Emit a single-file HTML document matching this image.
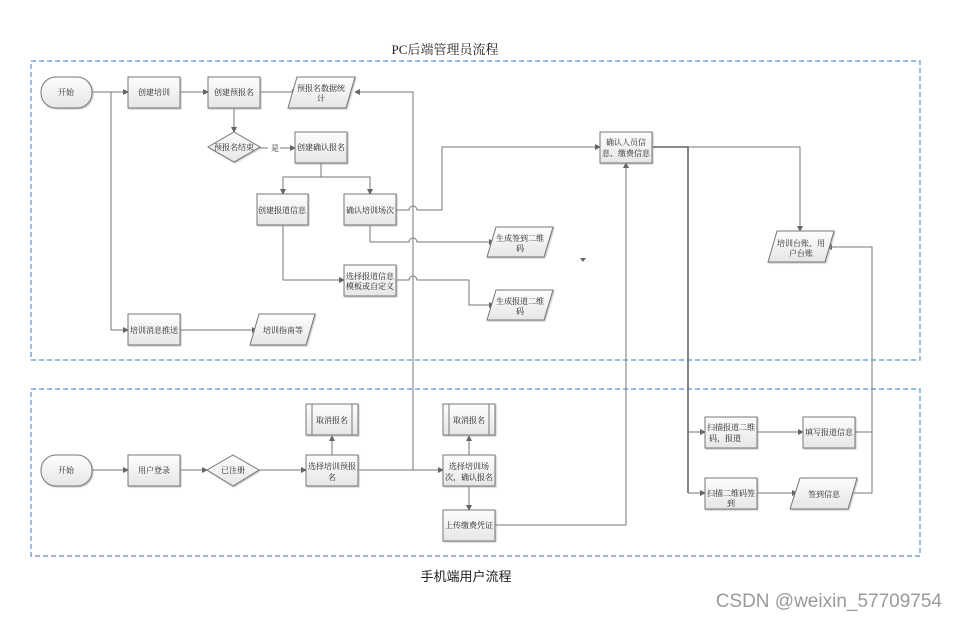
<!DOCTYPE html>
<html><head><meta charset="utf-8"><style>
html,body{margin:0;padding:0;background:#fff;width:958px;height:619px;overflow:hidden}
svg{display:block}
text{font-family:"Liberation Serif","Noto Serif CJK SC","Noto Sans CJK SC",serif;font-size:8px;fill:#222}
.n{fill:url(#g);stroke:#777;stroke-width:1;filter:url(#s)}
.l{fill:none;stroke:#777;stroke-width:1}
.t{fill:none;stroke:#666;stroke-width:1.6}
</style></head><body>
<svg width="958" height="619" viewBox="0 0 958 619" xmlns="http://www.w3.org/2000/svg">
<defs>
<linearGradient id="g" x1="0" y1="0" x2="0" y2="1"><stop offset="0" stop-color="#fdfdfd"/><stop offset="1" stop-color="#e6e6e6"/></linearGradient>
<filter id="s" x="-10%" y="-10%" width="130%" height="130%"><feDropShadow dx="1" dy="1" stdDeviation="0.6" flood-color="#999" flood-opacity="0.6"/></filter>
<marker id="a" markerWidth="6" markerHeight="6" refX="5" refY="3" orient="auto" markerUnits="userSpaceOnUse"><path d="M0,0 L6,3 L0,6 z" fill="#666"/></marker>
</defs>
<text x="445" y="54" text-anchor="middle" style="font-size:13px">PC后端管理员流程</text>
<text x="466" y="581" text-anchor="middle" style="font-family:'Liberation Sans','Noto Sans CJK SC',sans-serif;font-size:13px">手机端用户流程</text>
<text x="942" y="607" text-anchor="end" style="font-family:'Liberation Sans','Noto Sans CJK SC',sans-serif;font-size:19px;fill:#9a9a9a">CSDN @weixin_57709754</text>
<rect x="31" y="61" width="889" height="299" fill="none" stroke="#5b8fd6" stroke-width="1.2" stroke-dasharray="5,3"/>
<rect x="31" y="389" width="889" height="167" fill="none" stroke="#5b8fd6" stroke-width="1.2" stroke-dasharray="5,3"/>

<path class="l" d="M92,92 H128" marker-end="url(#a)"/>
<path class="l" d="M111,92 V330 H128" marker-end="url(#a)"/>
<path class="l" d="M180,92 H208" marker-end="url(#a)"/>
<path class="l" d="M260,92 H297" marker-end="url(#a)"/>
<path class="l" d="M234,108 V132" marker-end="url(#a)"/>
<path class="l" d="M260,148 H295" marker-end="url(#a)"/>
<rect x="268" y="143" width="12" height="10" fill="#fff"/>
<text x="275" y="151" text-anchor="middle">是</text>
<path class="l" d="M321,162 V177 H283 V194" marker-end="url(#a)"/>
<path class="l" d="M321,177 H370 V194" marker-end="url(#a)"/>
<path class="l" d="M283,225 V280 H344" marker-end="url(#a)"/>
<path class="l" d="M396,210 H409 a4,4 0 0 1 8,0 H442 V147 H600" marker-end="url(#a)"/>
<path class="l" d="M370,225 V242 H409 a4,4 0 0 1 8,0 H494" marker-end="url(#a)"/>
<path class="l" d="M396,280 H409 a4,4 0 0 1 8,0 H469 V305 H494" marker-end="url(#a)"/>
<path class="l" d="M180,330 H257" marker-end="url(#a)"/>
<path class="l" d="M358,470 H413 V92 H355" marker-end="url(#a)"/>
<path d="M580,258 L586,258 L583,262 z" fill="#666"/>
<path class="l" d="M652,147 H800 V231" marker-end="url(#a)"/>
<path class="t" d="M652,147 H688 V493"/>
<path class="l" d="M688,432 H705" marker-end="url(#a)"/>
<path class="l" d="M688,493 H705" marker-end="url(#a)"/>
<path class="l" d="M757,432 H803" marker-end="url(#a)"/>
<path class="l" d="M757,493 H797" marker-end="url(#a)"/>
<path class="l" d="M855,432 H872 M852,493 H872 V247 H827" marker-end="url(#a)"/>
<path class="l" d="M495,525 H626 V163" marker-end="url(#a)"/>
<path class="l" d="M92,470 H128" marker-end="url(#a)"/>
<path class="l" d="M180,470 H207" marker-end="url(#a)"/>
<path class="l" d="M259,470 H306" marker-end="url(#a)"/>
<path class="l" d="M358,470 H443" marker-end="url(#a)"/>
<path class="l" d="M332,455 V436" marker-end="url(#a)"/>
<path class="l" d="M469,455 V436" marker-end="url(#a)"/>
<path class="l" d="M469,486 V510" marker-end="url(#a)"/>

<rect class="n" x="41" y="77" width="51" height="31" rx="15"/><text x="66" y="95" text-anchor="middle">开始</text>
<rect class="n" x="128" y="77" width="52" height="31"/><text x="154" y="95" text-anchor="middle">创建培训</text>
<rect class="n" x="208" y="77" width="52" height="31"/><text x="234" y="95" text-anchor="middle">创建预报名</text>
<polygon class="n" points="297,77 355,77 346,108 288,108"/><text x="321" y="91" text-anchor="middle">预报名数据统</text><text x="321" y="101" text-anchor="middle">计</text>
<polygon class="n" points="234,132 260,147 234,162 208,147"/><text x="234" y="150" text-anchor="middle">预报名结束</text>
<rect class="n" x="295" y="132" width="52" height="31"/><text x="321" y="150" text-anchor="middle">创建确认报名</text>
<rect class="n" x="257" y="194" width="51" height="31"/><text x="282" y="213" text-anchor="middle">创建报道信息</text>
<rect class="n" x="344" y="194" width="52" height="31"/><text x="370" y="213" text-anchor="middle">确认培训场次</text>
<rect class="n" x="344" y="265" width="52" height="31"/><text x="370" y="279" text-anchor="middle">选择报道信息</text><text x="370" y="289" text-anchor="middle">模板或自定义</text>
<rect class="n" x="128" y="314" width="52" height="31"/><text x="154" y="333" text-anchor="middle">培训消息推送</text>
<polygon class="n" points="259,314 315,314 306,345 250,345"/><text x="283" y="333" text-anchor="middle">培训指南等</text>
<rect class="n" x="600" y="132" width="52" height="31"/><text x="626" y="145" text-anchor="middle">确认人员信</text><text x="626" y="156" text-anchor="middle">息、缴费信息</text>
<polygon class="n" points="496,227 553,227 544,257 487,257"/><text x="520" y="241" text-anchor="middle">生成签到二维</text><text x="520" y="251" text-anchor="middle">码</text>
<polygon class="n" points="496,290 553,290 544,320 487,320"/><text x="520" y="304" text-anchor="middle">生成报道二维</text><text x="520" y="314" text-anchor="middle">码</text>
<polygon class="n" points="777,231 834,231 825,262 768,262"/><text x="801" y="246" text-anchor="middle">培训台账、用</text><text x="801" y="256" text-anchor="middle">户台账</text>

<rect class="n" x="41" y="455" width="51" height="31" rx="15"/><text x="66" y="473" text-anchor="middle">开始</text>
<rect class="n" x="128" y="455" width="52" height="31"/><text x="154" y="473" text-anchor="middle">用户登录</text>
<polygon class="n" points="233,455 259,470 233,486 207,470"/><text x="233" y="473" text-anchor="middle">已注册</text>
<rect class="n" x="306" y="404" width="52" height="31"/><path class="l" d="M312,404 V435 M352,404 V435"/><text x="332" y="423" text-anchor="middle">取消报名</text>
<rect class="n" x="306" y="455" width="52" height="31"/><text x="332" y="469" text-anchor="middle">选择培训预报</text><text x="332" y="480" text-anchor="middle">名</text>
<rect class="n" x="443" y="404" width="52" height="31"/><path class="l" d="M449,404 V435 M489,404 V435"/><text x="469" y="423" text-anchor="middle">取消报名</text>
<rect class="n" x="443" y="455" width="52" height="31"/><text x="469" y="469" text-anchor="middle">选择培训场</text><text x="469" y="480" text-anchor="middle">次，确认报名</text>
<rect class="n" x="443" y="510" width="52" height="31"/><text x="469" y="528" text-anchor="middle">上传缴费凭证</text>
<rect class="n" x="705" y="417" width="52" height="31"/><text x="731" y="430" text-anchor="middle">扫描报道二维</text><text x="725" y="441" text-anchor="middle">码，报道</text>
<rect class="n" x="803" y="417" width="52" height="31"/><text x="829" y="435" text-anchor="middle">填写报道信息</text>
<rect class="n" x="705" y="478" width="52" height="31"/><text x="731" y="496" text-anchor="middle">扫描二维码签</text><text x="731" y="506" text-anchor="middle">到</text>
<polygon class="n" points="800,478 857,478 848,509 790,509"/><text x="824" y="497" text-anchor="middle">签到信息</text>
</svg>
</body></html>
